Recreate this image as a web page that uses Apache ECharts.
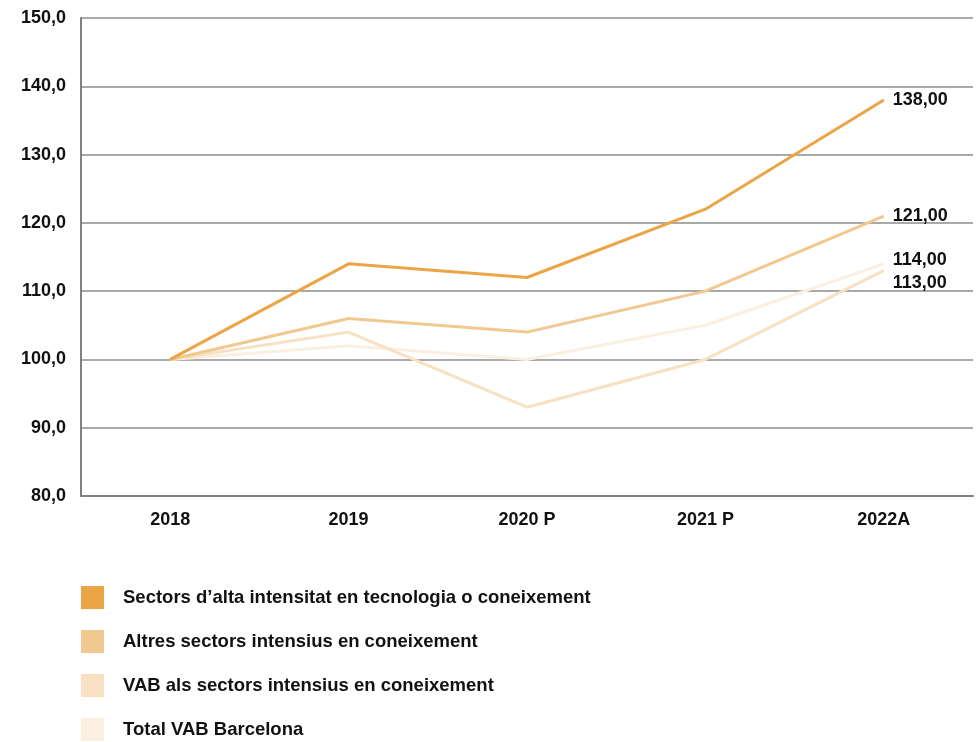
<!DOCTYPE html>
<html>
<head>
<meta charset="utf-8">
<script src="https://cdn.jsdelivr.net/npm/echarts@6/dist/echarts.min.js"></script>
<style>
  html, body { margin: 0; padding: 0; background: #fff; }
  #chart { width: 978px; height: 742px; }
</style>
</head>
<body>
<div id="chart"></div>
<script>
// dades llegides del gràfic
const categories = ["2018", "2019", "2020 P", "2021 P", "2022A"];
const altaIntensitat = [100, 114, 112, 122, 138];
const altresSectors = [100, 106, 104, 110, 121];
const vabSectors = [100, 104, 93, 100, 113];
const totalVab = [100, 102, 100, 105, 114];
const seriesNames = [
  "Sectors d\u2019alta intensitat en tecnologia o coneixement",
  "Altres sectors intensius en coneixement",
  "VAB als sectors intensius en coneixement",
  "Total VAB Barcelona",
];
const colors = ["#EBA546", "#F2C891", "#F8E0C3", "#FAEFE1"];

const font = "'Liberation Sans', Arial, sans-serif";

function makeSeries(name, data, color, z, offset) {
  return {
    name: name,
    type: "line",
    data: data,
    z: z,
    symbol: "none",
    lineStyle: { color: color, width: 3 },
    itemStyle: { color: color },
    endLabel: {
      show: true,
      distance: 9,
      offset: offset || [0, 0],
      color: "#111",
      fontFamily: font,
      fontWeight: "bold",
      fontSize: 18,
      formatter: (p) => p.value.toFixed(2).replace(".", ","),
    },
  };
}

const chart = echarts.init(document.getElementById("chart"));
chart.setOption({
  animation: false,
  color: colors,
  grid: { left: 81, right: 5, top: 18, bottom: 246, containLabel: false },
  legend: {
    orient: "vertical",
    left: 81,
    top: 586,
    height: 200,
    padding: 0,
    itemWidth: 23,
    itemHeight: 23,
    itemGap: 21,
    icon: "rect",
    textStyle: {
      color: "#111",
      fontFamily: font,
      fontWeight: "bold",
      fontSize: 18.5,
      padding: [0, 0, 0, 14],
    },
    data: seriesNames,
  },
  xAxis: {
    type: "category",
    data: categories,
    boundaryGap: true,
    axisLine: { lineStyle: { color: "#808080", width: 2 } },
    axisTick: { show: false },
    axisLabel: {
      color: "#111",
      fontFamily: font,
      fontWeight: "bold",
      fontSize: 18,
      margin: 15,
    },
  },
  yAxis: {
    type: "value",
    min: 80,
    max: 150,
    interval: 10,
    axisLine: { show: true, lineStyle: { color: "#808080", width: 2 } },
    axisTick: { show: false },
    splitLine: { lineStyle: { color: "#8c8c8c", width: 1.5 } },
    axisLabel: {
      color: "#111",
      fontFamily: font,
      fontWeight: "bold",
      fontSize: 18,
      margin: 15,
      formatter: (v) => v.toFixed(1).replace(".", ","),
    },
  },
  series: [
    makeSeries(seriesNames[3], totalVab, colors[3], 1, [0, -4]),
    makeSeries(seriesNames[2], vabSectors, colors[2], 2, [0, 12]),
    makeSeries(seriesNames[1], altresSectors, colors[1], 3),
    makeSeries(seriesNames[0], altaIntensitat, colors[0], 4),
  ],
});
</script>
</body>
</html>
